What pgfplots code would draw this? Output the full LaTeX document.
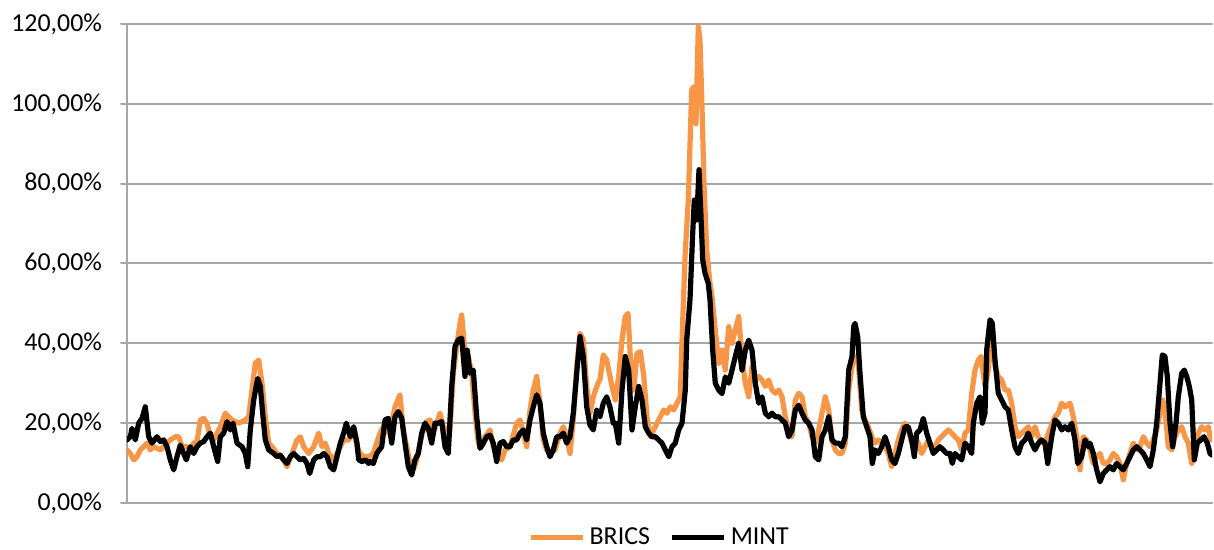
\documentclass[border=0pt]{standalone}
\usepackage{pgfplots}
\pgfplotsset{compat=1.18}
\usepackage{fontspec}
\setmainfont{Carlito}
\definecolor{brics}{HTML}{F79646}
\definecolor{gridc}{HTML}{A6A6A6}
\begin{document}
\begin{tikzpicture}
\useasboundingbox (-63.5bp,-23.5bp) rectangle (543.5bp,251.5bp);
\begin{axis}[
  scale only axis, width=542.5bp, height=239.5bp,
  xmin=127, xmax=1212, ymin=0, ymax=120,
  axis x line*=bottom, axis y line*=left,
  axis line style={draw=gridc, line width=1bp, -},
  xtick=\empty,
  ytick={0,20,40,60,80,100,120},
  yticklabels={{0,00\%},{20,00\%},{40,00\%},{60,00\%},{80,00\%},{100,00\%},{120,00\%}},
  ymajorgrids, major grid style={draw=gridc, line width=1bp},
  tick align=outside, major tick length=3bp,
  every tick/.style={draw=gridc, line width=1bp},
  ticklabel style={font=\fontsize{13}{15}\selectfont, text=black},
  yticklabel style={xshift=-6bp},
  legend style={at={(0.492,-0.072)}, anchor=center, legend columns=2, draw=none, fill=none,
    font=\fontsize{13}{15}\selectfont, inner sep=1bp,
    /tikz/every even column/.append style={column sep=8bp}},
  legend image code/.code={\draw[#1, line width=2.4bp] (0bp,0bp) -- (26bp,0bp);},
  line join=round, line cap=round,
]
\addplot[brics, line width=2.6bp] coordinates {
(127.0,13.3)(130.3,12.4)(133.7,10.8)(137.0,11.6)(140.3,13.3)(143.7,14.1)(147.0,15.0)(150.3,13.3)(153.7,14.1)(157.0,13.7)(160.3,13.3)(163.7,14.1)(167.0,15.0)(170.3,15.8)(175.3,16.6)(178.7,16.6)(182.0,14.1)(187.0,14.1)(190.3,13.3)(193.7,15.0)(197.0,15.4)(200.3,20.8)(203.7,21.2)(207.0,20.0)(210.3,16.6)(213.7,15.8)(217.0,17.5)(220.3,19.1)(225.3,22.5)(228.7,21.6)(232.0,20.8)(235.3,20.4)(238.7,20.0)(242.0,20.4)(245.3,20.8)(248.7,21.6)(252.0,28.3)(255.3,35.0)(258.7,35.8)(262.0,30.0)(265.3,21.6)(268.7,15.0)(272.0,14.1)(277.0,12.4)(283.7,10.8)(287.0,9.1)(292.0,12.4)(297.0,15.8)(300.3,16.6)(303.7,14.1)(308.7,12.4)(313.7,14.1)(318.7,17.5)(322.0,14.1)(325.3,15.0)(328.7,12.4)(333.7,10.8)(338.7,13.3)(343.7,15.8)(348.7,15.8)(353.7,18.3)(357.0,14.1)(360.3,12.4)(363.7,11.6)(368.7,11.6)(373.3,12.4)(376.7,15.0)(380.0,17.5)(385.0,20.0)(388.3,17.5)(391.7,20.0)(395.0,24.1)(400.0,27.1)(403.3,18.3)(406.7,14.1)(410.0,9.9)(413.3,8.3)(416.7,10.8)(420.0,15.0)(423.3,18.3)(426.7,20.4)(430.0,20.8)(433.3,17.5)(436.7,20.0)(440.0,22.5)(443.3,19.1)(446.7,18.3)(450.0,18.3)(453.3,32.5)(456.7,39.2)(460.0,45.0)(461.7,47.1)(465.0,37.5)(468.3,36.7)(471.7,32.5)(475.0,22.5)(478.3,15.0)(481.7,14.1)(485.0,16.6)(490.0,18.3)(493.3,14.1)(496.7,12.4)(501.7,10.8)(505.0,13.3)(510.0,14.1)(516.7,20.0)(520.0,20.8)(523.3,17.5)(526.7,14.1)(530.0,23.3)(533.3,28.3)(536.7,31.7)(540.0,25.0)(543.3,15.8)(546.7,13.3)(550.0,12.4)(555.0,13.3)(560.0,17.5)(563.3,19.1)(566.7,16.6)(570.0,12.4)(573.3,20.8)(576.7,34.2)(580.0,42.5)(583.3,40.9)(586.7,29.2)(590.0,22.5)(593.3,26.6)(596.7,29.2)(600.0,31.0)(603.3,37.1)(606.7,35.8)(610.0,31.7)(612.0,29.2)(615.3,25.8)(618.7,31.7)(622.0,40.9)(625.3,46.7)(628.0,47.5)(630.3,36.7)(633.7,28.3)(637.0,37.5)(640.3,37.9)(643.7,32.0)(647.0,21.6)(650.3,16.6)(653.7,18.3)(657.0,20.0)(660.3,21.6)(663.7,23.3)(667.0,22.5)(670.3,24.1)(673.7,23.3)(677.0,25.0)(680.3,26.6)(681.7,38.3)(685.0,61.7)(688.3,75.9)(691.7,103.5)(694.0,104.3)(696.0,95.0)(698.3,119.4)(700.0,116.0)(702.0,99.3)(704.0,80.0)(706.7,63.4)(710.0,55.0)(712.0,51.7)(715.3,43.4)(718.7,35.0)(722.0,38.3)(725.3,33.3)(728.7,44.2)(732.0,40.0)(735.3,43.4)(738.7,46.7)(742.0,36.7)(745.3,30.0)(748.7,26.6)(752.0,34.2)(755.3,30.8)(758.7,31.7)(762.0,30.8)(765.3,29.2)(768.7,30.8)(772.0,28.3)(775.3,27.5)(778.7,28.3)(782.0,26.6)(785.3,21.6)(788.7,18.3)(792.0,16.6)(795.3,25.8)(798.7,27.5)(802.0,26.6)(805.3,21.6)(808.7,20.0)(812.0,16.6)(815.3,15.0)(818.7,18.3)(822.0,22.5)(825.3,26.6)(828.7,23.3)(832.0,15.8)(835.3,13.3)(838.7,12.4)(842.0,12.4)(845.3,15.0)(848.7,28.3)(852.0,34.2)(855.0,36.7)(858.3,35.0)(861.7,23.3)(865.0,20.8)(868.3,19.1)(871.7,16.6)(875.0,15.0)(878.3,15.8)(881.7,15.0)(885.0,14.1)(888.3,12.4)(891.7,9.1)(895.0,12.4)(898.3,15.8)(901.7,18.3)(905.0,20.0)(908.3,18.3)(911.7,15.0)(915.0,16.6)(918.3,15.0)(921.7,12.4)(925.0,14.1)(928.3,15.8)(931.7,14.1)(935.0,14.1)(938.3,15.8)(941.7,16.6)(945.0,17.5)(948.3,18.3)(951.7,17.5)(955.0,16.6)(958.3,15.8)(961.7,13.3)(965.0,17.5)(968.3,18.3)(971.7,27.5)(975.0,33.3)(978.3,35.8)(981.0,36.7)(985.0,29.2)(988.3,33.3)(991.7,43.4)(995.0,34.2)(998.3,31.7)(1001.7,30.8)(1005.0,28.3)(1008.3,28.3)(1011.7,25.0)(1015.0,19.1)(1018.3,16.6)(1021.7,17.5)(1025.0,18.3)(1028.3,19.1)(1031.7,16.6)(1035.0,19.1)(1038.3,16.6)(1041.7,15.0)(1045.0,15.0)(1048.3,17.5)(1055.0,21.6)(1058.3,22.5)(1061.7,25.0)(1065.0,24.1)(1070.0,25.0)(1073.3,21.6)(1076.7,16.6)(1080.0,8.3)(1083.3,16.6)(1086.7,15.8)(1090.0,13.3)(1093.3,9.9)(1096.7,11.6)(1100.0,12.4)(1103.3,9.9)(1106.7,9.9)(1110.0,10.8)(1113.3,12.4)(1116.7,11.6)(1120.0,9.9)(1123.3,5.8)(1126.7,9.9)(1130.0,12.4)(1133.3,15.0)(1136.7,13.3)(1140.0,14.1)(1143.3,16.6)(1146.7,15.0)(1150.0,14.1)(1153.3,15.8)(1156.7,18.3)(1160.0,22.5)(1162.7,25.8)(1165.0,23.3)(1168.3,14.1)(1171.7,13.3)(1175.0,16.6)(1178.3,18.3)(1181.7,19.1)(1185.0,16.6)(1188.3,15.0)(1191.7,9.9)(1195.0,13.3)(1198.3,17.5)(1201.7,19.1)(1205.0,18.3)(1208.3,19.1)(1210.7,15.8)
};
\addlegendentry{BRICS}
\addplot[black, line width=2.6bp] coordinates {
(127.0,15.8)(130.3,16.6)(132.0,18.7)(135.3,15.8)(138.7,20.0)(142.0,21.2)(145.3,24.1)(148.7,16.6)(152.0,15.0)(157.0,16.6)(160.3,15.4)(163.7,15.8)(167.0,14.1)(170.3,10.8)(173.7,8.3)(177.0,11.6)(180.3,14.5)(183.7,12.4)(186.3,10.8)(190.3,14.1)(193.7,12.4)(197.0,14.1)(200.3,15.0)(203.7,15.4)(207.0,16.6)(210.3,17.5)(213.7,14.1)(217.7,10.4)(220.3,16.6)(223.7,17.5)(227.0,20.4)(230.3,18.3)(233.0,20.0)(237.0,15.0)(242.0,14.1)(245.3,12.4)(247.7,9.1)(250.3,18.3)(253.7,25.8)(257.7,31.2)(260.3,29.2)(263.0,21.6)(265.3,15.8)(268.7,13.3)(273.7,12.4)(277.0,11.6)(280.3,12.0)(283.7,10.8)(287.0,9.9)(290.3,11.6)(293.7,12.4)(297.0,11.6)(300.3,10.8)(303.7,11.2)(307.0,9.9)(309.7,7.4)(313.7,10.8)(317.0,11.6)(320.3,11.6)(323.7,12.4)(327.0,11.6)(330.3,9.1)(333.7,8.3)(337.0,11.6)(340.3,15.0)(343.7,17.5)(346.3,20.0)(350.3,16.6)(353.7,19.1)(357.0,15.0)(358.7,10.8)(362.0,10.4)(365.3,10.8)(368.7,9.9)(370.0,10.4)(373.3,9.9)(376.7,12.4)(381.7,14.1)(385.0,20.8)(388.3,21.2)(391.7,15.0)(395.0,21.6)(398.3,22.9)(401.7,21.2)(405.0,15.0)(408.3,9.1)(411.7,7.0)(415.0,10.8)(418.3,12.4)(421.7,17.5)(425.0,20.0)(428.3,18.7)(431.7,15.0)(435.0,20.0)(438.3,20.0)(441.7,20.4)(445.0,14.1)(448.3,12.4)(451.7,29.2)(455.0,39.2)(458.3,40.9)(461.7,41.3)(465.0,31.7)(467.3,38.3)(470.0,32.5)(473.3,33.3)(476.7,21.6)(480.0,13.7)(483.3,15.0)(486.7,16.6)(490.0,17.0)(493.3,15.0)(496.7,10.4)(500.0,15.0)(503.3,15.4)(506.7,14.1)(510.0,14.1)(513.3,15.8)(516.7,15.8)(520.0,17.5)(523.3,18.3)(526.7,15.8)(530.0,20.8)(533.3,24.1)(536.7,27.1)(540.0,25.0)(543.3,17.5)(546.7,14.1)(550.0,11.6)(553.3,13.3)(556.7,16.6)(560.0,16.6)(563.3,17.5)(566.7,15.0)(570.0,16.6)(573.3,22.5)(576.7,32.5)(580.0,41.7)(583.3,36.7)(586.7,24.1)(590.0,19.5)(593.3,18.3)(596.7,23.3)(600.0,21.6)(603.3,25.0)(606.7,26.6)(610.0,24.0)(613.3,20.0)(615.3,20.0)(618.7,15.0)(622.0,28.3)(625.3,36.7)(628.7,33.3)(632.0,18.3)(635.3,24.1)(638.7,29.2)(642.0,25.8)(645.3,19.1)(648.7,17.5)(652.0,16.6)(655.3,16.6)(658.7,15.8)(662.0,15.0)(665.3,13.3)(668.7,11.6)(672.0,14.1)(675.3,15.0)(678.7,18.3)(682.0,20.0)(685.3,28.3)(686.7,40.8)(690.0,50.9)(692.7,67.6)(694.3,75.9)(696.7,70.9)(699.0,83.5)(701.0,71.8)(702.7,60.9)(705.0,57.6)(708.3,55.0)(710.0,50.9)(712.7,38.3)(715.3,30.0)(718.7,28.3)(722.0,27.4)(725.3,31.6)(728.7,30.0)(732.0,33.3)(735.3,36.7)(738.7,40.0)(742.0,33.3)(745.3,38.3)(748.7,40.8)(752.0,38.3)(755.3,30.0)(758.7,25.0)(762.0,26.6)(765.3,22.5)(768.7,21.6)(772.0,22.5)(775.3,21.6)(778.7,21.6)(782.0,20.8)(785.3,20.0)(788.7,16.6)(792.0,18.3)(795.3,23.3)(798.7,24.5)(802.0,22.5)(805.3,20.8)(808.7,20.0)(812.0,18.3)(815.3,11.6)(818.7,10.8)(822.0,16.6)(825.3,18.3)(828.7,21.6)(832.0,15.8)(835.3,15.0)(838.7,15.0)(842.0,14.1)(845.3,16.6)(848.7,33.3)(852.0,36.7)(853.7,44.2)(855.0,45.0)(857.7,41.7)(860.0,32.5)(863.3,21.6)(866.7,19.1)(870.0,16.6)(872.3,9.9)(875.0,13.3)(878.3,12.4)(881.7,14.1)(885.0,16.6)(888.3,14.1)(891.7,10.8)(895.0,9.9)(898.3,12.4)(901.7,15.8)(905.0,19.1)(908.3,19.1)(911.7,15.8)(914.3,11.6)(916.7,17.5)(920.0,18.3)(923.3,21.2)(926.7,17.5)(930.0,15.0)(933.3,12.4)(936.7,13.3)(940.0,14.1)(943.3,13.3)(946.7,12.4)(950.0,12.4)(952.3,9.9)(955.0,12.4)(958.3,11.6)(961.7,10.8)(965.0,15.0)(968.3,14.1)(971.7,12.4)(973.3,20.0)(976.7,25.0)(980.0,26.6)(982.3,20.0)(985.0,22.5)(986.7,38.3)(990.0,45.9)(992.3,45.0)(995.0,35.8)(998.3,27.5)(1001.7,25.8)(1005.0,24.1)(1008.3,23.3)(1011.7,18.3)(1015.0,14.1)(1018.3,12.4)(1021.7,15.0)(1025.0,15.8)(1028.3,17.5)(1031.7,15.0)(1035.0,13.3)(1038.3,15.0)(1041.7,15.8)(1045.0,15.0)(1047.7,9.9)(1051.7,16.6)(1055.0,20.8)(1058.3,20.0)(1061.7,18.3)(1065.0,19.1)(1068.3,18.3)(1071.7,20.0)(1075.0,15.8)(1077.7,9.9)(1081.7,11.6)(1085.0,15.8)(1088.3,14.1)(1090.0,15.0)(1093.3,12.4)(1096.7,8.3)(1100.0,5.3)(1103.3,7.4)(1106.7,8.3)(1110.0,9.1)(1113.3,8.3)(1116.7,9.9)(1120.0,9.1)(1123.3,8.3)(1126.7,9.9)(1130.0,11.6)(1133.3,13.3)(1136.7,14.1)(1140.0,13.3)(1143.3,12.4)(1146.7,10.8)(1150.0,9.1)(1153.3,13.3)(1156.7,20.0)(1160.0,30.0)(1162.3,37.1)(1165.0,36.7)(1167.3,31.7)(1170.0,20.0)(1172.7,14.1)(1176.0,20.0)(1178.3,26.6)(1181.7,32.5)(1184.3,33.3)(1186.7,31.7)(1189.3,29.2)(1191.7,25.8)(1194.3,10.8)(1197.3,15.0)(1200.7,15.8)(1204.0,16.6)(1207.3,15.0)(1210.0,12.4)(1212.0,12.0)
};
\addlegendentry{MINT}
\end{axis}
\end{tikzpicture}
\end{document}
